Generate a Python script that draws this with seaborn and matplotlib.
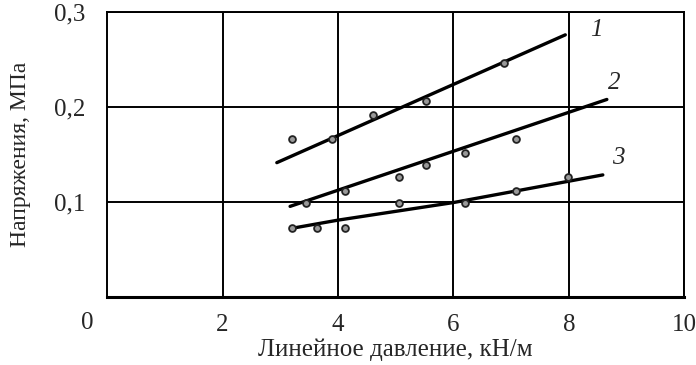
import matplotlib
matplotlib.use("Agg")
import matplotlib.pyplot as plt
import seaborn as sns
import pandas as pd

# Экспериментальные точки
x1 = [3.21, 3.90, 4.60, 5.53, 6.88]
y1 = [0.166, 0.166, 0.192, 0.206, 0.246]
x2 = [3.45, 4.13, 5.06, 5.53, 6.20, 7.09]
y2 = [0.099, 0.112, 0.126, 0.139, 0.152, 0.166]
x3 = [3.21, 3.64, 4.13, 5.06, 6.20, 7.09, 7.98]
y3 = [0.0725, 0.0725, 0.0725, 0.099, 0.099, 0.112, 0.126]

# Аппроксимирующие линии
lx1 = [2.94, 7.94]
ly1 = [0.1415, 0.276]
lx2 = [3.17, 8.66]
ly2 = [0.0955, 0.208]
lx3 = [3.21, 4.0, 6.0, 8.59]
ly3 = [0.0725, 0.0810, 0.0995, 0.1286]

curve_labels = ["1", "2", "3"]
label_x = [8.47, 8.78, 8.85]
label_y = [0.281, 0.225, 0.146]

x_ticks = [2, 4, 6, 8, 10]
y_ticks = [0.1, 0.2, 0.3]

sns.set_style("white")
plt.rcParams["font.family"] = ["Liberation Serif", "DejaVu Serif"]

fig = plt.figure(figsize=(6.96, 3.65), dpi=100)
ax = fig.add_axes([0.154, 0.186, 0.829, 0.781])

for lx, ly in [(lx1, ly1), (lx2, ly2), (lx3, ly3)]:
    sns.lineplot(x=lx, y=ly, ax=ax, color="black", linewidth=2.4, sort=False,
                 estimator=None, zorder=3)

for xs, ys in [(x1, y1), (x2, y2), (x3, y3)]:
    sns.scatterplot(x=xs, y=ys, ax=ax, s=24, color="#999999", edgecolor="#222222",
                    linewidth=1.3, zorder=4)

for t, tx, ty in zip(curve_labels, label_x, label_y):
    ax.text(tx, ty, t, fontsize=18, style="italic", ha="center", va="center")

ax.set_xlim(0, 10)
ax.set_ylim(0, 0.3)
ax.set_xticks(x_ticks)
ax.set_yticks(y_ticks)
ax.set_xticklabels([str(v) for v in x_ticks], fontsize=18)
ax.set_yticklabels([f"{v:.1f}".replace(".", ",") for v in y_ticks], fontsize=18)
ax.tick_params(axis="x", length=0, pad=12)
ax.tick_params(axis="y", length=0, pad=16)
ax.grid(True, color="black", linewidth=1.4)
for sp in ax.spines.values():
    sp.set_color("black")
    sp.set_linewidth(1.4)
ax.spines["bottom"].set_linewidth(2.2)

ax.text(-0.035, -0.09, "0", transform=ax.transAxes, fontsize=18,
        ha="center", va="center")

ax.set_xlabel("Линейное давление, кН/м", fontsize=18, labelpad=2)
ax.set_ylabel("Напряжения, МПа", fontsize=17, labelpad=16)

fig.savefig("out.png", dpi=100)
